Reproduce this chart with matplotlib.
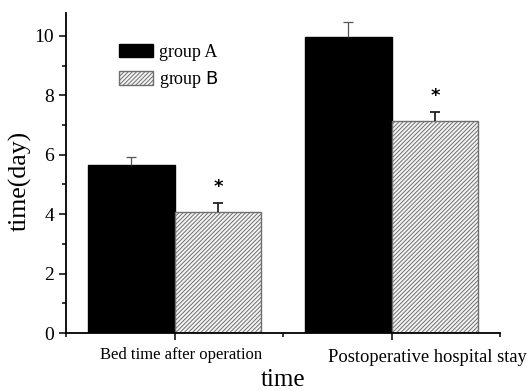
import numpy as np
import matplotlib
matplotlib.use('Agg')
import matplotlib.pyplot as plt
from matplotlib.ticker import MultipleLocator
import matplotlib.transforms as mtransforms

plt.rcParams['font.family'] = ['Liberation Serif', 'DejaVu Serif']
plt.rcParams['hatch.linewidth'] = 0.7
plt.rcParams['hatch.color'] = '#7a7a7a'

categories = ['Bed time after operation', 'Postoperative hospital stay']
group_a = [5.66, 9.96]
group_a_err = [0.28, 0.50]
group_b = [4.08, 7.12]
group_b_err = [0.31, 0.32]
series_names = ['group A', r'group $\mathsf{B}$']

fig = plt.figure(figsize=(5.29, 3.91), dpi=100)
ax = fig.add_axes([0.1248, 0.1483, 0.8204, 0.8185])

pos = np.arange(len(categories))
w = 0.4
cap = 0.024

xa = pos - w / 2
xb = pos + w / 2
top_a = np.add(group_a, group_a_err)
top_b = np.add(group_b, group_b_err)

ax.bar(xa, group_a, w, color='black', edgecolor='black', label=series_names[0])
ax.vlines(xa, group_a, top_a, color='#555555', lw=0.9)
ax.hlines(top_a, xa - cap, xa + cap, color='#555555', lw=0.9)

ax.bar(xb, group_b, w, color='#f4f4f4', edgecolor='#6f6f6f', hatch='////////',
       linewidth=1.0, label=series_names[1])
ax.vlines(xb, group_b, top_b, color='#222222', lw=1.3)
ax.hlines(top_b, xb - cap, xb + cap, color='#222222', lw=1.3)

# significance marks over group B
for x, t in zip(xb, top_b):
    ax.text(x, t + 0.22, '*', ha='center', va='bottom', fontsize=13,
            fontweight='bold', family=['DejaVu Sans'])

ax.set_xlim(-0.5, 1.5)
ax.set_ylim(0, 10.77)
ax.yaxis.set_major_locator(MultipleLocator(2))
ax.yaxis.set_minor_locator(MultipleLocator(1))
ax.set_xticks(pos)
ax.set_xticks([-0.5, 0.5, 1.5], minor=True)
ax.set_xticklabels(categories)
ax.tick_params(axis='both', which='major', direction='out', length=5, width=1.1, labelsize=14)
ax.tick_params(axis='x', which='major', labelsize=12, pad=5)
ax.tick_params(axis='both', which='minor', direction='out', length=3, width=1.1)

# nudge the category labels off their ticks
lbl0, lbl1 = ax.get_xticklabels()
lbl0.set_transform(lbl0.get_transform() + mtransforms.ScaledTranslation(0.07, 0, fig.dpi_scale_trans))
lbl1.set_fontsize(13.3)
lbl1.set_transform(lbl1.get_transform() + mtransforms.ScaledTranslation(0.36, -0.02, fig.dpi_scale_trans))

for s in ['top', 'right']:
    ax.spines[s].set_visible(False)
for s in ['left', 'bottom']:
    ax.spines[s].set_linewidth(1.3)

ax.set_ylabel('time(day)', fontsize=18.5, labelpad=2, y=0.475)
ax.set_xlabel('time', fontsize=18, labelpad=2)

ax.legend(loc='upper left', bbox_to_anchor=(0.085, 0.955), frameon=False, fontsize=13,
          handlelength=1.9, handleheight=0.8, handletextpad=0.3, labelspacing=0.45)

plt.savefig('out.png', dpi=100)
